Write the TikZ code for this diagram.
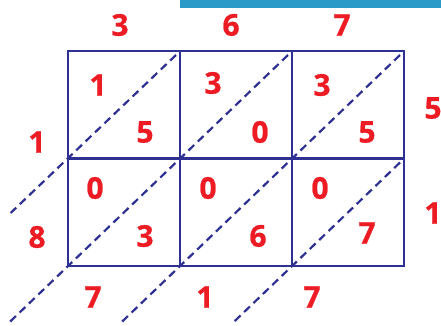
\documentclass[tikz,border=0pt]{standalone}
\usepackage{fontspec}
\setmainfont{Open Sans}
\newfontfamily\digitfont[FakeBold=0.8]{Open Sans}
\usetikzlibrary{positioning}
\definecolor{Navy}{HTML}{2E3192}
\definecolor{Signal}{HTML}{ED1C24}
\definecolor{Banner}{HTML}{2A9AC8}

\begin{document}
\begin{tikzpicture}[x=1pt, y=-1pt,
    cell/.style={draw=Navy, line width=2.8pt, minimum width=112pt, minimum height=107.5pt, inner sep=0pt, outer sep=0pt},
    digit/.style={font=\digitfont\fontsize{30}{30}\selectfont\bfseries, text=Signal, inner sep=0pt},
    diag/.style={draw=Navy, line width=2.2pt, dash pattern=on 8pt off 5pt}
]
\useasboundingbox (0,0) rectangle (441,325);

% Banner
\fill[Banner] (180,0) rectangle (441,8);

% Grid
\node[cell] (c11) at (124,104.75) {};
\node[cell, right=0pt of c11] (c12) {};
\node[cell, right=0pt of c12] (c13) {};
\node[cell, below=0pt of c11] (c21) {};
\node[cell, right=0pt of c21] (c22) {};
\node[cell, right=0pt of c22] (c23) {};

% Free ends of the diagonals
\coordinate (e1) at (10.6,213);
\coordinate (e2) at (9.7,322);
\coordinate (e3) at (121.7,322);
\coordinate (e4) at (233.7,322);

% Diagonals
\draw[diag] ([shift={(-4,4)}]c11.north east) -- (e1);
\draw[diag] ([shift={(-4,4)}]c12.north east) -- (e2);
\draw[diag] ([shift={(-4,4)}]c13.north east) -- (e3);
\draw[diag] ([shift={(-4,4)}]c23.north east) -- (e4);

% Top factor
\node[digit] (t1) at (120,25) {3};
\node[digit] (t2) at (231,25) {6};
\node[digit] (t3) at (342,25) {7};

% Right factor
\node[digit] (r1) at (433,108) {5};
\node[digit] (r2) at (433,213) {1};

% Left sums
\node[digit] (l1) at (37,142) {1};
\node[digit] (l2) at (37,237) {8};

% Bottom sums
\node[digit] (b1) at (93,297) {7};
\node[digit] (b2) at (205,297) {1};
\node[digit] (b3) at (312,297) {7};

% Partial products, first row
\node[digit] (p11a) at (98,85) {1};
\node[digit] (p11b) at (145,132) {5};
\node[digit] (p12a) at (213,83) {3};
\node[digit] (p12b) at (260,132) {0};
\node[digit] (p13a) at (322,85) {3};
\node[digit] (p13b) at (367,132) {5};

% Partial products, second row
\node[digit] (p21a) at (95,188) {0};
\node[digit] (p21b) at (145,236) {3};
\node[digit] (p22a) at (208,188) {0};
\node[digit] (p22b) at (258,236) {6};
\node[digit] (p23a) at (320,188) {0};
\node[digit] (p23b) at (367,233) {7};

\end{tikzpicture}
\end{document}
